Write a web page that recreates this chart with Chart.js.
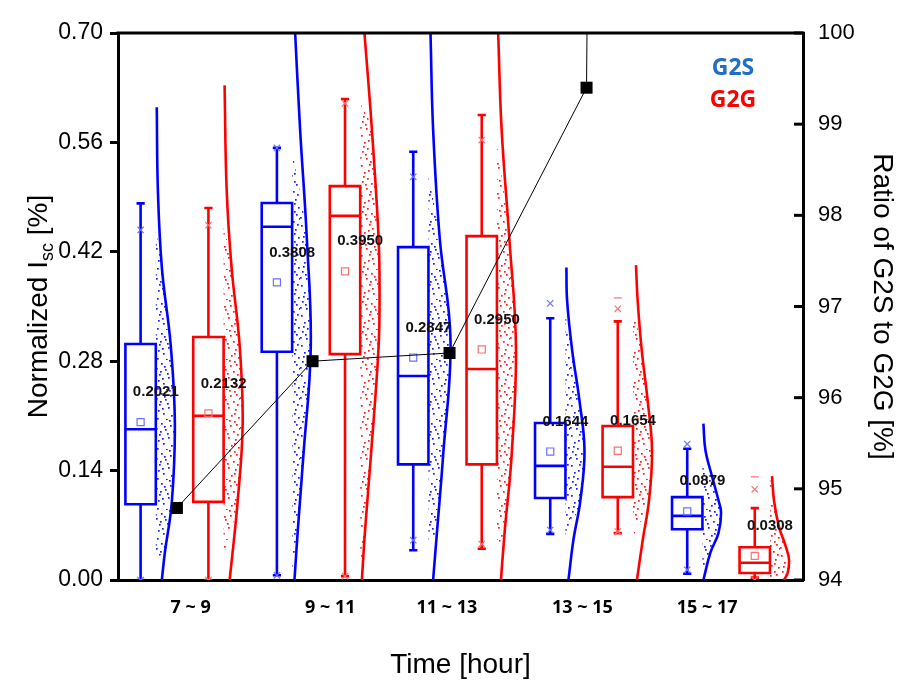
<!DOCTYPE html>
<html lang="en">
<head>
  <meta charset="UTF-8" />
  <title>Normalized Isc - G2S vs G2G</title>
  <script src="https://cdn.jsdelivr.net/npm/chart.js"></script>
  <style>
    body { margin: 0; background: #fff; }
    #wrap { width: 909px; height: 695px; position: relative; }
  </style>
</head>
<body>
<div id="wrap"><canvas id="chart"></canvas></div>
<script>
// ---- values ----
const categories = ['7 ~ 9', '9 ~ 11', '11 ~ 13', '13 ~ 15', '15 ~ 17'];
const categoryTickX = [0.53, 1.55, 2.40, 3.39, 4.30];
const leftTicks = [0, 0.14, 0.28, 0.42, 0.56, 0.70];
const rightTicks = [94, 95, 96, 97, 98, 99, 100];

// box centres on the x axis (one group = 1 unit)
const g2sX = [0.165, 1.16, 2.155, 3.155, 4.155];
const g2gX = [0.66, 1.657, 2.655, 3.648, 4.648];

// G2S box statistics
const g2sLow    = [0.000, 0.006, 0.038, 0.059, 0.008];
const g2sQ1     = [0.097, 0.292, 0.148, 0.105, 0.065];
const g2sMedian = [0.193, 0.452, 0.261, 0.146, 0.082];
const g2sQ3     = [0.302, 0.4825, 0.426, 0.201, 0.106];
const g2sHigh   = [0.482, 0.553, 0.548, 0.335, 0.168];
const g2sMean   = [0.2021, 0.3808, 0.2847, 0.1644, 0.0879];
const g2sTopMark    = [0.448, 0.553, 0.516, 0.354, 0.174];
const g2sBottomMark = [0.000, 0.006, 0.051, 0.064, 0.013];

// G2G box statistics
const g2gLow    = [0.000, 0.005, 0.040, 0.060, 0.003];
const g2gQ1     = [0.100, 0.289, 0.148, 0.106, 0.009];
const g2gMedian = [0.210, 0.466, 0.270, 0.145, 0.022];
const g2gQ3     = [0.311, 0.504, 0.440, 0.197, 0.042];
const g2gHigh   = [0.476, 0.6155, 0.595, 0.331, 0.092];
const g2gMean   = [0.2132, 0.3950, 0.2950, 0.1654, 0.0308];
const g2gTopMark    = [0.454, 0.610, 0.563, 0.347, 0.116];
const g2gBottomMark = [0.000, 0.005, 0.046, 0.062, 0.000];
const g2gMaxMark    = [null, null, null, 0.361, 0.132];

// half violin outlines: [value, half width in x units]
const g2sViolin = [
  [[0.605, 0.007], [0.50, 0.015], [0.40, 0.044], [0.30, 0.109], [0.20, 0.139], [0.10, 0.117], [0.035, 0.066], [0.0, 0.044]],
  [[0.70, 0.022], [0.577, 0.058], [0.438, 0.107], [0.298, 0.136], [0.159, 0.082], [0.065, 0.042], [0.0, 0.017]],
  [[0.70, 0.015], [0.577, 0.034], [0.438, 0.082], [0.307, 0.161], [0.159, 0.107], [0.065, 0.064], [0.0, 0.034]],
  [[0.40, 0.007], [0.358, 0.012], [0.294, 0.049], [0.230, 0.102], [0.166, 0.139], [0.102, 0.109], [0.051, 0.058], [0.0, 0.022]],
  [[0.20, 0.007], [0.166, 0.022], [0.132, 0.071], [0.102, 0.117], [0.086, 0.136], [0.060, 0.117], [0.035, 0.058], [0.0, 0.007]]
];
const g2gViolin = [
  [[0.633, 0.007], [0.50, 0.022], [0.40, 0.058], [0.30, 0.117], [0.20, 0.139], [0.10, 0.102], [0.0, 0.044]],
  [[0.70, 0.031], [0.577, 0.085], [0.438, 0.134], [0.37, 0.141], [0.298, 0.134], [0.159, 0.078], [0.065, 0.036], [0.0, 0.012]],
  [[0.70, 0.009], [0.577, 0.034], [0.438, 0.090], [0.298, 0.139], [0.159, 0.107], [0.065, 0.058], [0.0, 0.029]],
  [[0.403, 0.022], [0.358, 0.034], [0.294, 0.064], [0.230, 0.107], [0.166, 0.139], [0.102, 0.117], [0.051, 0.071], [0.0, 0.029]],
  [[0.133, 0.015], [0.102, 0.029], [0.068, 0.066], [0.042, 0.117], [0.026, 0.139], [0.009, 0.129], [0.0, 0.102]]
];

// vertical extent of the raw data points beside each box [low, high]
const g2sDotRange = [[0.03, 0.45], [0.0, 0.55], [0.04, 0.52], [0.055, 0.34], [0.01, 0.15]];
const g2gDotRange = [[0.03, 0.46], [0.005, 0.61], [0.04, 0.56], [0.055, 0.35], [0.0, 0.133]];

// ratio of G2S to G2G [%], right axis
const ratioX = [0.43, 1.42, 2.42, 3.42, 4.42];
const ratioValues = [94.79, 96.40, 96.49, 99.40, 285.4];

// ---- style constants ----
const BOX_HALF = 0.111;
const CAP_HALF = 0.03;

// repeating tile of dots used to show the jittered raw points
function dotPattern(color) {
  const tile = document.createElement('canvas');
  tile.width = 30; tile.height = 30;
  const g = tile.getContext('2d');
  g.fillStyle = color;
  [[2, 1], [11, 3], [19, 0], [26, 4], [6, 8], [15, 9], [23, 11], [29, 8], [1, 15], [9, 14],
   [18, 17], [25, 19], [4, 22], [13, 23], [21, 25], [28, 27], [7, 28], [16, 29], [0, 7], [12, 18],
   [27, 14], [20, 5], [5, 4], [24, 1], [10, 11], [17, 13], [3, 26], [24, 23], [14, 6], [8, 20]]
    .forEach(([px, py]) => g.fillRect(px, py, 1.7, 1.7));
  return g.createPattern(tile, 'repeat');
}

// box + whiskers + median as one broken line
function boxPoints(s) {
  const pts = [];
  s.x.forEach((c, i) => {
    const l = c - BOX_HALF, r = c + BOX_HALF;
    pts.push({x: l, y: s.q1[i]}, {x: l, y: s.q3[i]}, {x: r, y: s.q3[i]}, {x: r, y: s.q1[i]}, {x: l, y: s.q1[i]}, {x: l, y: s.q3[i]}, {x: c, y: null});
    pts.push({x: l, y: s.med[i]}, {x: r, y: s.med[i]}, {x: c, y: null});
    pts.push({x: c, y: s.q3[i]}, {x: c, y: s.hi[i]}, {x: c, y: null});
    pts.push({x: c - CAP_HALF, y: s.hi[i]}, {x: c + CAP_HALF, y: s.hi[i]}, {x: c, y: null});
    pts.push({x: c, y: s.q1[i]}, {x: c, y: s.lo[i]}, {x: c, y: null});
    pts.push({x: c - CAP_HALF, y: s.lo[i]}, {x: c + CAP_HALF, y: s.lo[i]}, {x: c, y: null});
  });
  return pts;
}

const series = [
  {color: '#0000ff', light: '#7070ff', dot: 'rgba(0,0,255,0.9)', x: g2sX, lo: g2sLow, q1: g2sQ1, med: g2sMedian, q3: g2sQ3, hi: g2sHigh,
   mean: g2sMean, top: g2sTopMark, bottom: g2sBottomMark, max: [null, null, null, null, null], violin: g2sViolin, dots: g2sDotRange},
  {color: '#ff0000', light: '#ff7070', dot: 'rgba(255,0,0,0.9)', x: g2gX, lo: g2gLow, q1: g2gQ1, med: g2gMedian, q3: g2gQ3, hi: g2gHigh,
   mean: g2gMean, top: g2gTopMark, bottom: g2gBottomMark, max: g2gMaxMark, violin: g2gViolin, dots: g2gDotRange}
];

const datasets = [];

// ratio line on the right axis
datasets.push({
  data: ratioValues.map((v, i) => ({x: ratioX[i], y: v})),
  yAxisID: 'y2', borderColor: '#000', borderWidth: 1, tension: 0,
  pointStyle: 'rect', pointRadius: 8.5, pointBackgroundColor: '#000', pointBorderWidth: 0, order: 0
});

series.forEach(s => {
  // mean squares
  datasets.push({
    data: s.mean.map((v, i) => ({x: s.x[i], y: v})), showLine: false,
    pointStyle: 'rect', pointRadius: 5, pointBorderColor: s.light, pointBorderWidth: 1.2,
    pointBackgroundColor: 'rgba(0,0,0,0)', order: 1
  });
  // 1% / 99% crosses
  datasets.push({
    data: s.top.map((v, i) => ({x: s.x[i], y: v})).concat(s.bottom.map((v, i) => ({x: s.x[i], y: v}))),
    showLine: false, pointStyle: 'crossRot', pointRadius: 4.5, pointBorderColor: s.light, pointBorderWidth: 1.2, order: 2
  });
  // max dashes
  datasets.push({
    data: s.max.map((v, i) => ({x: s.x[i], y: v})), showLine: false,
    pointStyle: 'line', pointRadius: 4, pointBorderColor: s.light, pointBorderWidth: 1.2, order: 2
  });
  // boxes, medians, whiskers
  datasets.push({
    data: boxPoints(s), borderColor: s.color, borderWidth: 2.6, pointRadius: 0, tension: 0,
    spanGaps: false, borderJoinStyle: 'miter', borderCapStyle: 'butt', order: 4
  });
  const pattern = dotPattern(s.dot);
  s.violin.forEach((outline, i) => {
    const base = s.x[i] + BOX_HALF;
    // half violin curve
    datasets.push({
      data: outline.map(([v, w]) => ({x: base + w, y: v})),
      borderColor: s.color, borderWidth: 2.6, pointRadius: 0, tension: 0.4, order: 3
    });
    // raw points shown as dotted fill inside the half violin
    const [lo, hi] = s.dots[i];
    const inner = outline.filter(([v]) => v > lo && v < hi).map(([v, w]) => ({x: base + w, y: v}));
    datasets.push({
      data: [{x: base, y: hi}].concat(inner, [{x: base, y: lo}]),
      borderWidth: 0, pointRadius: 0, tension: 0.4, fill: 'shape', backgroundColor: pattern, order: 5
    });
  });
});

// mean value labels, legend, frame, right ticks, left title
const decorations = {
  id: 'decorations',
  afterDatasetsDraw(chart) {
    const c = chart.ctx, xs = chart.scales.x, ys = chart.scales.y;
    c.save();
    c.font = 'bold 15px "Liberation Sans", Arial, sans-serif';
    c.fillStyle = '#111';
    c.textAlign = 'center';
    c.textBaseline = 'middle';
    series.forEach(s => {
      s.mean.forEach((m, i) => {
        c.fillText(m.toFixed(4), xs.getPixelForValue(s.x[i] + BOX_HALF), ys.getPixelForValue(m) - 30);
      });
    });
    c.restore();
  },
  afterDraw(chart) {
    const c = chart.ctx, a = chart.chartArea, y2 = chart.scales.y2;
    c.save();
    // top frame line
    c.strokeStyle = '#000';
    c.lineWidth = 3;
    c.beginPath();
    c.moveTo(a.left - 1.5, a.top);
    c.lineTo(a.right + 1.5, a.top);
    c.stroke();
    // inward ticks on the right axis
    y2.ticks.forEach(t => {
      const py = y2.getPixelForValue(t.value);
      c.beginPath();
      c.moveTo(a.right - 9, py);
      c.lineTo(a.right, py);
      c.stroke();
    });
    // legend text
    c.font = 'bold 23px "Noto Sans", sans-serif';
    c.textAlign = 'center';
    c.textBaseline = 'middle';
    c.fillStyle = '#1f6fc5';
    c.fillText('G2S', a.right - 70, a.top + 35);
    c.fillStyle = '#ff0000';
    c.fillText('G2G', a.right - 70, a.top + 67);
    // left title with subscript
    c.translate(37, (a.top + a.bottom) / 2);
    c.rotate(-Math.PI / 2);
    const big = '28px "Liberation Sans", Arial, sans-serif';
    const small = '18px "Liberation Sans", Arial, sans-serif';
    c.textAlign = 'left';
    c.textBaseline = 'alphabetic';
    c.fillStyle = '#000';
    c.font = big;
    const w1 = c.measureText('Normalized I').width;
    const w3 = c.measureText(' [%]').width;
    c.font = small;
    const w2 = c.measureText('sc').width;
    let px = -(w1 + w2 + w3) / 2;
    c.font = big; c.fillText('Normalized I', px, 10); px += w1;
    c.font = small; c.fillText('sc', px, 16); px += w2;
    c.font = big; c.fillText(' [%]', px, 10);
    c.restore();
  }
};

const ctx = document.getElementById('chart').getContext('2d');
new Chart(ctx, {
  type: 'line',
  data: { datasets },
  options: {
    responsive: true,
    maintainAspectRatio: false,
    animation: false,
    events: [],
    layout: { padding: { top: 33, left: 0, right: 0, bottom: 0 } },
    plugins: { legend: { display: false }, tooltip: { enabled: false } },
    scales: {
      x: {
        type: 'linear', min: 0, max: 5,
        afterBuildTicks: s => { s.ticks = categoryTickX.map(v => ({value: v})); },
        afterFit: s => { s.height = 115; },
        grid: { display: false, drawTicks: false },
        border: { display: true, color: '#000', width: 3 },
        ticks: {
          autoSkip: false, maxRotation: 0, padding: 17, color: '#000',
          font: { family: '"Noto Sans", sans-serif', weight: 'bold', size: 18 },
          callback: (v, i) => categories[i]
        },
        title: {
          display: true, text: 'Time [hour]', color: '#000',
          font: { family: '"Liberation Sans", Arial, sans-serif', size: 28 },
          padding: { top: 0, bottom: 13 }
        }
      },
      y: {
        position: 'left', min: 0, max: 0.7,
        afterBuildTicks: s => { s.ticks = leftTicks.map(v => ({value: v})); },
        afterFit: s => { s.width = 118; },
        grid: { drawOnChartArea: false, drawTicks: true, tickLength: 8, tickWidth: 3, tickColor: '#000' },
        border: { display: true, color: '#000', width: 3 },
        ticks: {
          padding: 7, color: '#000',
          font: { family: '"Liberation Sans", Arial, sans-serif', size: 23 },
          callback: v => v.toFixed(2)
        }
      },
      y2: {
        position: 'right', min: 94, max: 100,
        afterBuildTicks: s => { s.ticks = rightTicks.map(v => ({value: v})); },
        afterFit: s => { s.width = 106; },
        grid: { drawOnChartArea: false, drawTicks: false },
        border: { display: true, color: '#000', width: 3 },
        ticks: {
          padding: 15, color: '#000',
          font: { family: '"Liberation Sans", Arial, sans-serif', size: 22 }
        },
        title: {
          display: true, text: 'Ratio of G2S to G2G [%]', color: '#000',
          font: { family: '"Liberation Sans", Arial, sans-serif', size: 28 },
          padding: { top: 10, bottom: 0 }
        }
      }
    }
  },
  plugins: [decorations]
});
</script>
</body>
</html>
